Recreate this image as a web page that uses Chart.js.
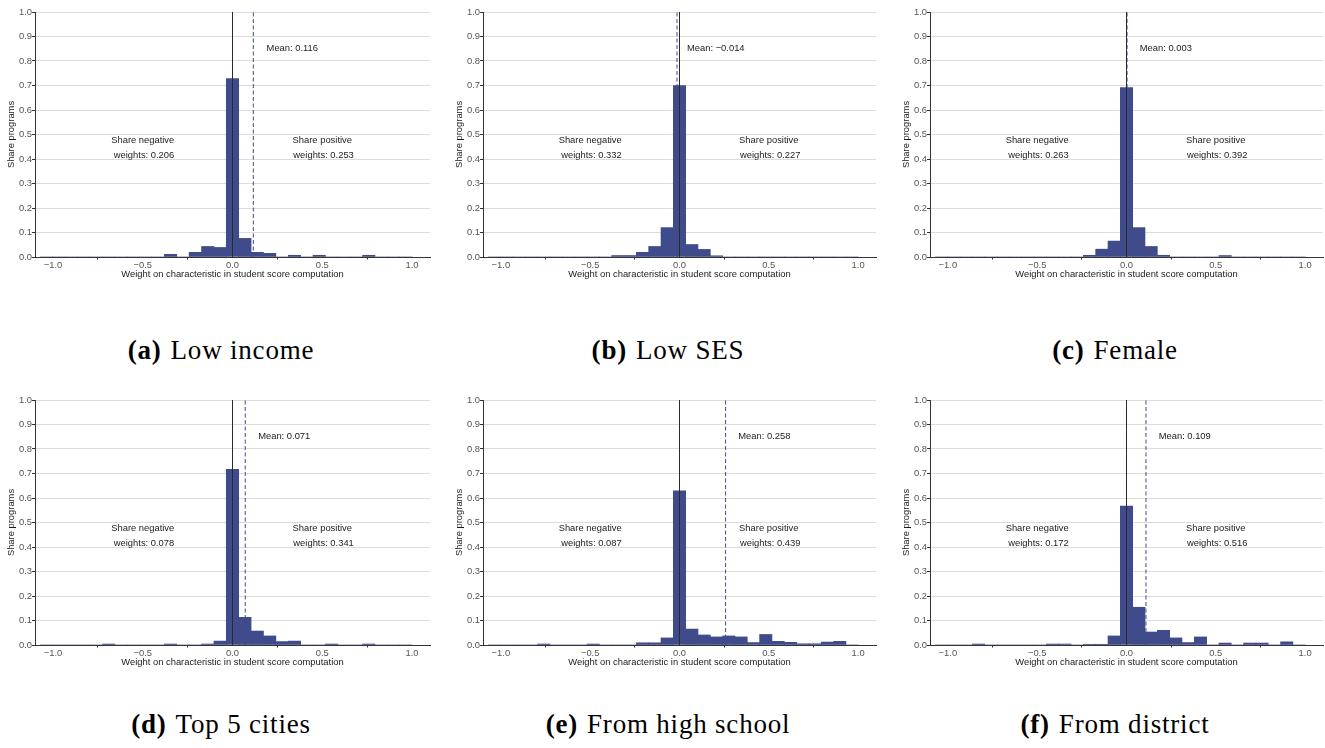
<!DOCTYPE html>
<html>
<head>
<meta charset="utf-8">
<script src="https://cdn.jsdelivr.net/npm/chart.js@4"></script>
<style>
  body { margin: 0; background: #fff; }
  #page { position: relative; width: 1325px; height: 748px; overflow: hidden; background: #fff; }
  canvas { position: absolute; }
  .cap { position: absolute; width: 440px; text-align: center; font-family: "Liberation Serif", serif; font-size: 27px; letter-spacing: 0.8px; color: #000; white-space: nowrap; }
  .cap b { font-weight: bold; margin-right: 9px; }
</style>
</head>
<body>
<div id="page"></div>
<script>
// histogram bin centres (weight on characteristic)
const binCenters = [-1.035, -0.966, -0.897, -0.828, -0.759, -0.690, -0.621, -0.552, -0.483, -0.414,
  -0.345, -0.276, -0.207, -0.138, -0.069, 0, 0.069, 0.138, 0.207, 0.276,
  0.345, 0.414, 0.483, 0.552, 0.621, 0.690, 0.759, 0.828, 0.897, 0.966];

// share of programs in each bin, one array per panel
const lowIncome = [0, 0, 0, 0, 0, 0, 0, 0, 0, 0,
  0.011, 0, 0.019, 0.043, 0.039, 0.728, 0.076, 0.019, 0.015, 0,
  0.007, 0, 0.007, 0, 0, 0, 0.007, 0, 0, 0];
const lowSES = [0, 0, 0, 0, 0, 0, 0, 0, 0, 0,
  0.006, 0.006, 0.019, 0.043, 0.120, 0.700, 0.051, 0.031, 0.005, 0,
  0, 0, 0, 0, 0, 0, 0, 0, 0, 0];
const female = [0, 0, 0, 0, 0, 0, 0, 0, 0, 0,
  0, 0, 0.007, 0.032, 0.065, 0.692, 0.120, 0.043, 0.007, 0,
  0, 0, 0, 0.006, 0, 0, 0, 0, 0, 0];
const top5Cities = [0, 0, 0, 0, 0, 0.004, 0, 0, 0, 0,
  0.004, 0, 0, 0.004, 0.016, 0.717, 0.113, 0.057, 0.037, 0.014,
  0.016, 0, 0, 0.004, 0, 0, 0.004, 0, 0, 0];
const fromHighSchool = [0, 0, 0, 0, 0.004, 0, 0, 0, 0.004, 0,
  0, 0, 0.009, 0.009, 0.029, 0.629, 0.065, 0.041, 0.033, 0.037,
  0.033, 0.010, 0.043, 0.015, 0.011, 0.005, 0.005, 0.012, 0.015, 0];
const fromDistrict = [0, 0, 0, 0.004, 0, 0, 0, 0, 0, 0.004,
  0.004, 0, 0.003, 0.003, 0.037, 0.567, 0.154, 0.053, 0.060, 0.029,
  0.010, 0.033, 0, 0.008, 0, 0.008, 0.008, 0, 0.013, 0];

const meanWeights = [0.116, -0.014, 0.003, 0.071, 0.258, 0.109];
const shareNegative = [0.206, 0.332, 0.263, 0.078, 0.087, 0.172];
const sharePositive = [0.253, 0.227, 0.392, 0.341, 0.439, 0.516];
const captionLetters = ['(a)', '(b)', '(c)', '(d)', '(e)', '(f)'];
const captionTitles = ['Low income', 'Low SES', 'Female', 'Top 5 cities', 'From high school', 'From district'];
const xTicks = [-1, -0.5, 0, 0.5, 1];

const seriesList = [lowIncome, lowSES, female, top5Cities, fromHighSchool, fromDistrict];

const BAR = '#3f4b8a';
const FONT = 'Liberation Sans, Arial, sans-serif';
const fmt = (v, d) => v.toFixed(d).replace('-', '\u2212');

// panel geometry
const plotLeft = [35.2, 483.3, 930.3];
const plotRight = [430, 876, 1323.7];
const plotTop = [12, 400];
const plotH = 245;
const capCenter = [221, 668, 1115];
const capY = [352, 726];
const AXW = 35, PADT = 10, AXH = 24;

const page = document.getElementById('page');

const textPlugin = {
  id: 'notes',
  afterDatasetsDraw(chart) {
    const i = chart.options.plugins.notes.idx;
    const {ctx, scales: {x, y}} = chart;
    ctx.save();
    ctx.fillStyle = '#222';
    ctx.font = '9.4px ' + FONT;
    ctx.textAlign = 'center';
    ctx.textBaseline = 'middle';
    ctx.fillText('Mean: ' + fmt(meanWeights[i], 3), x.getPixelForValue(meanWeights[i] + 0.217), y.getPixelForValue(0.85));
    ctx.fillText('Share negative', x.getPixelForValue(-0.5), y.getPixelForValue(0.476));
    ctx.fillText(' weights: ' + fmt(shareNegative[i], 3), x.getPixelForValue(-0.5), y.getPixelForValue(0.416));
    ctx.fillText('Share positive', x.getPixelForValue(0.5), y.getPixelForValue(0.476));
    ctx.fillText(' weights: ' + fmt(sharePositive[i], 3), x.getPixelForValue(0.5), y.getPixelForValue(0.416));
    ctx.restore();
  }
};

seriesList.forEach((vals, i) => {
  const col = i % 3, row = Math.floor(i / 3);
  const cv = document.createElement('canvas');
  const w = Math.round(plotRight[col] - plotLeft[col] + AXW + 2);
  const h = PADT + plotH + AXH;
  cv.width = w; cv.height = h;
  cv.style.left = (plotLeft[col] - AXW) + 'px';
  cv.style.top = (plotTop[row] - PADT) + 'px';
  page.appendChild(cv);

  const cap = document.createElement('div');
  cap.className = 'cap';
  cap.style.left = (capCenter[col] - 220) + 'px';
  cap.style.top = (capY[row] - 17) + 'px';
  cap.innerHTML = '<b>' + captionLetters[i] + '</b>' + captionTitles[i];
  page.appendChild(cap);

  new Chart(cv, {
    type: 'bar',
    data: {
      datasets: [
        {
          type: 'line', order: 1,
          data: [{x: 0, y: 0}, {x: 0, y: 1}],
          borderColor: '#2a2a2a', borderWidth: 1, pointRadius: 0, fill: false
        },
        {
          type: 'line', order: 2,
          data: [{x: meanWeights[i], y: 0}, {x: meanWeights[i], y: 1}],
          borderColor: BAR, borderWidth: 1, borderDash: [4, 2.5], pointRadius: 0, fill: false
        },
        {
          type: 'bar', order: 3,
          data: binCenters.map((c, k) => ({x: c, y: vals[k]})),
          backgroundColor: BAR, borderWidth: 0,
          barPercentage: 1, categoryPercentage: 1
        }
      ]
    },
    options: {
      responsive: false,
      animation: false,
      devicePixelRatio: 1,
      layout: {padding: {left: 0, right: 2, top: PADT, bottom: 0}},
      plugins: {legend: {display: false}, tooltip: {enabled: false}, notes: {idx: i}},
      scales: {
        x: {
          type: 'linear', min: -1.1, max: 1.1, offset: false,
          afterBuildTicks: s => { s.ticks = xTicks.map(v => ({value: v})); },
          afterFit: s => { s.height = AXH; },
          grid: {drawOnChartArea: false, tickLength: 2.5, tickColor: '#333'},
          border: {color: '#333', width: 1},
          ticks: {color: '#555', font: {family: FONT, size: 9.4}, padding: 0, maxRotation: 0,
            callback: v => fmt(v, 1)},
          title: {display: true, text: 'Weight on characteristic in student score computation',
            color: '#1a1a1a', font: {family: FONT, size: 9.4}, padding: {top: 0, bottom: 1.4}}
        },
        y: {
          min: 0, max: 1,
          afterFit: s => { s.width = AXW; },
          grid: {color: '#dcdcdc', lineWidth: 1, tickLength: 3, tickColor: '#333'},
          border: {color: '#333', width: 1},
          ticks: {stepSize: 0.1, color: '#555', font: {family: FONT, size: 9.4}, padding: 0,
            callback: v => fmt(v, 1)},
          title: {display: true, text: 'Share programs', color: '#1a1a1a',
            font: {family: FONT, size: 9.4}, padding: {top: 6.2, bottom: 0}}
        }
      }
    },
    plugins: [textPlugin]
  });
});
</script>
</body>
</html>
